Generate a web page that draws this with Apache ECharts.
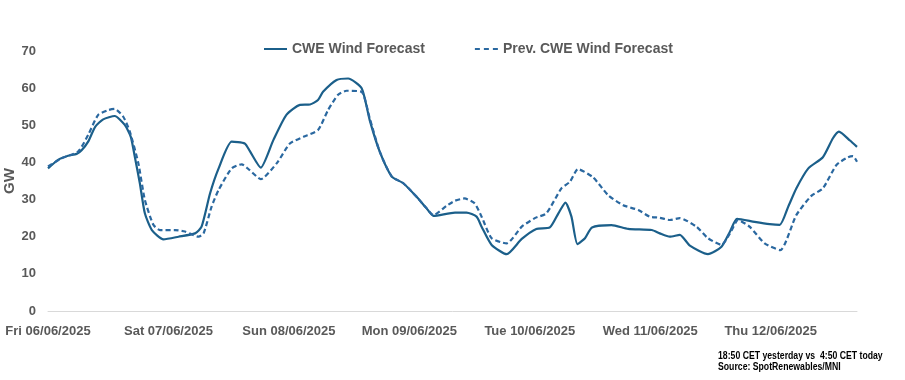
<!DOCTYPE html>
<html>
<head>
<meta charset="utf-8">
<script src="https://cdn.jsdelivr.net/npm/echarts@6/dist/echarts.min.js"></script>
<style>
html,body{margin:0;padding:0;background:#fff;}
#chart{width:905px;height:380px;}
</style>
</head>
<body>
<div id="chart"></div>
<script>
var dayLabels = ['Fri 06/06/2025','Sat 07/06/2025','Sun 08/06/2025','Mon 09/06/2025','Tue 10/06/2025','Wed 11/06/2025','Thu 12/06/2025'];
var yTicks = [0,10,20,30,40,50,60,70];

var curHours = [0,2,4,5.7,6.7,8,9.4,11,13.3,15.3,16.5,17.3,18.3,19.3,20.7,23,26,29.3,30.6,32.3,34,36.6,39.2,40.2,42.4,44.9,47.5,50.2,52.2,53.8,54.8,57.5,59.8,62.5,64.1,66.1,68.5,70.8,73.4,75.4,76.8,81.1,83.4,85.4,86.4,88.4,91.4,94.4,97.3,100,101.7,103.1,104.3,105.5,107,108.4,112.3,115.6,120.3,121.9,123.9,125.9,127.9,131.5,134.2,135.9,137.3,140.8,143.8,145.8,147.5,149.1,151.5,154.4,156.4,157.6,159.8,161.2];
var curValues = [38.4,40.7,41.8,42.3,43.3,45.6,49.6,51.6,52.5,50.1,46.9,41.5,34.4,26.3,21.8,19.3,20.0,20.9,22.7,31.7,38.4,45.6,45.1,43.1,38.6,46.0,52.8,55.5,55.6,56.8,59.0,62.2,62.6,60.0,51.4,42.9,36.2,34.4,30.8,27.7,25.6,26.5,26.5,25.4,22.7,17.8,15.3,19.4,22.1,22.5,26.3,29.2,25.4,18.0,19.6,22.5,23.1,22.1,21.8,20.9,20.0,20.5,17.6,15.3,17.3,21.4,24.8,24.0,23.4,23.2,28.1,33.0,38.4,41.4,46.5,48.3,45.9,44.2];

var prevHours = [0,2.7,6,8,10,12,13.3,15,16.3,18,19.3,21,22.3,25.3,27.3,30,31,32.6,34,36.6,38.6,40.2,42.4,45.6,48.2,50.9,53.8,55.8,57.8,59.5,62.5,64.1,66.1,68.5,70.8,73.4,75.4,76.8,79.4,81.1,83,85,86.4,88.4,91.4,94.4,97,99.3,102.3,104,105.6,108.6,111.6,114.6,117.6,119.9,121.9,123.9,125.9,129.2,131.5,134.2,135.9,137.5,139.8,142.8,145.9,149.1,152.1,154.4,157.1,159.4,160.4,161.2];
var prevValues = [38.9,41.1,42.9,47.4,52.8,54.1,54.4,52.3,48.3,39.8,29.9,23.2,21.8,21.8,21.4,20.0,20.9,28.1,32.6,38.4,39.5,37.9,35.5,39.8,45.1,46.9,48.7,54.1,58.2,59.3,59.0,51.9,42.9,36.2,34.4,30.8,27.7,25.8,28.3,29.7,30.3,29.0,25.4,19.6,18.2,22.7,25.0,26.3,33.0,34.8,38.2,36.0,31.2,28.5,27.2,25.4,25.1,24.5,25.0,22.7,19.6,17.8,20.9,24.5,22.7,18.2,16.4,25.8,31.0,33.0,39.3,41.4,41.7,40.2];

var seriesNames = ['CWE Wind Forecast','Prev. CWE Wind Forecast'];
var footnote = ['18:50 CET yesterday vs  4:50 CET today','Source: SpotRenewables/MNI'];

function pairs(xs, ys){ return xs.map(function(x,i){ return [x, ys[i]]; }); }

var chart = echarts.init(document.getElementById('chart'), null, {renderer:'canvas'});
var grey = '#595959';
var noteFont = 'bold 11px "Liberation Sans", Arial, sans-serif';
chart.setOption({
  animation:false,
  backgroundColor:'#ffffff',
  textStyle:{fontFamily:'Liberation Sans, Arial, sans-serif'},
  grid:{left:48, right:48, top:51, bottom:69, containLabel:false, outerBoundsMode:'none'},
  legend:{
    left:259, top:37, itemWidth:23, itemHeight:10, itemGap:50,
    textStyle:{color:grey, fontSize:14, fontWeight:'bold'},
    data:[
      {name:seriesNames[0], icon:'path://M0,4 L23,4 L23,6 L0,6 Z'},
      {name:seriesNames[1], icon:'path://M0,4h5v2h-5z M9,4h5v2h-5z M18,4h5v2h-5z'}
    ]
  },
  xAxis:{
    type:'value', min:0, max:161.2, interval:24,
    axisLine:{show:true, lineStyle:{color:'#d9d9d9', width:1}},
    axisTick:{show:false},
    splitLine:{show:false},
    axisLabel:{
      margin:14, color:grey, fontSize:13, fontWeight:'bold',
      showMaxLabel:false,
      formatter:function(v){ var i = Math.round(v/24); return (Math.abs(v - i*24) < 0.01 && dayLabels[i]) ? dayLabels[i] : ''; }
    }
  },
  yAxis:{
    type:'value', min:yTicks[0], max:yTicks[yTicks.length-1], interval:10,
    name:'GW', nameLocation:'middle', nameGap:31, nameRotate:90, nameMoveOverlap:false,
    nameTextStyle:{color:grey, fontSize:15, fontWeight:'bold'},
    axisLine:{show:false}, axisTick:{show:false}, splitLine:{show:false},
    axisLabel:{margin:12, color:grey, fontSize:13, fontWeight:'bold'}
  },
  series:[
    {name:seriesNames[0], type:'line', data:pairs(curHours,curValues), showSymbol:false, smooth:0.2,
     lineStyle:{color:'#1b5f8a', width:2.2}, itemStyle:{color:'#1b5f8a'}},
    {name:seriesNames[1], type:'line', data:pairs(prevHours,prevValues), showSymbol:false, smooth:0.2,
     lineStyle:{color:'#2a68a0', width:2.2, type:[5,3]}, itemStyle:{color:'#2a68a0'}}
  ],
  graphic:[
    {type:'text', x:718, y:350, scaleX:0.79, style:{text:footnote[0], fill:'#000', font:noteFont}},
    {type:'text', x:718, y:361.5, scaleX:0.79, style:{text:footnote[1], fill:'#000', font:noteFont}}
  ]
});
</script>
</body>
</html>
